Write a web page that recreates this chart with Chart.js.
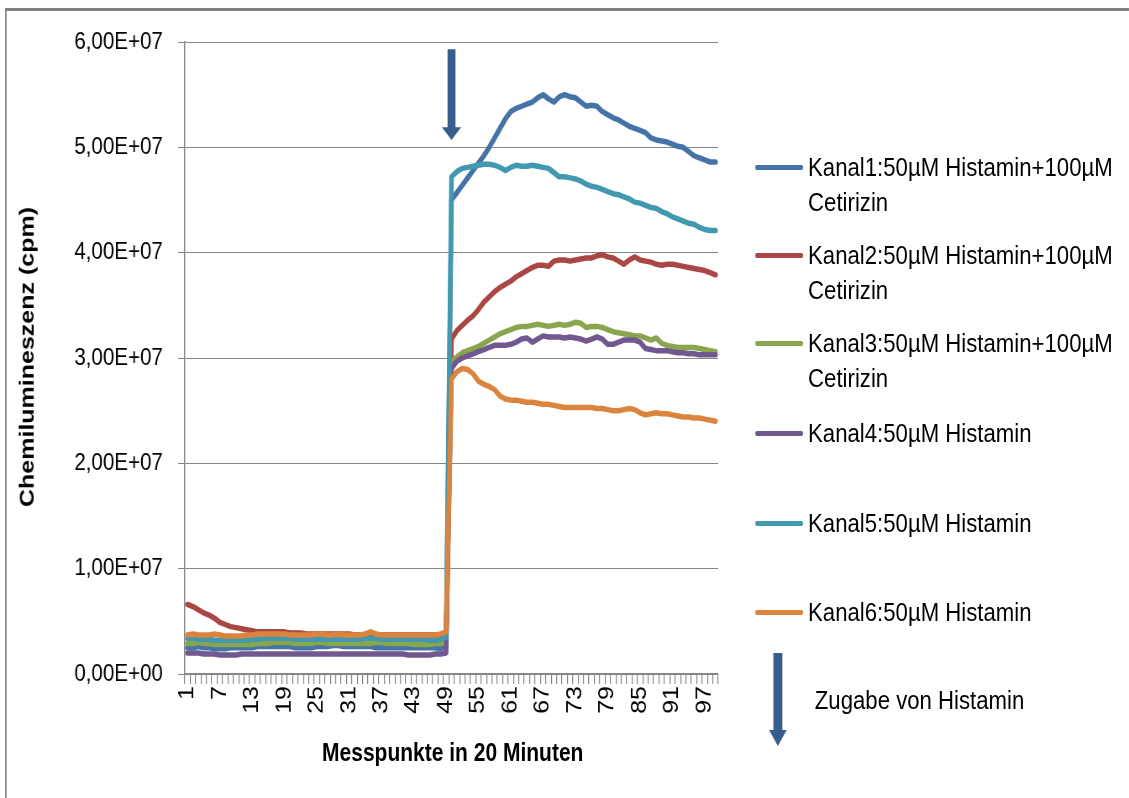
<!DOCTYPE html>
<html>
<head>
<meta charset="utf-8">
<script src="https://cdn.jsdelivr.net/npm/chart.js@4.4.1/dist/chart.umd.min.js"></script>
<style>
  html, body { margin: 0; padding: 0; background: #fff; overflow: hidden; }
  #wrap { position: relative; width: 1344px; height: 798px; transform: scaleX(0.84); transform-origin: 0 0; font-family: 'Liberation Sans', Arial, sans-serif; color: #000; }
  #c { position: absolute; left: 0; top: 0; }
  .frameTop { position: absolute; left: 6px; top: 8px; width: 1338px; height: 3px; background: #808080; }
  .frameLeft { position: absolute; left: 6px; top: 8px; width: 2.4px; height: 790px; background: #868686; }
  .ytitle { position: absolute; left: 32px; top: 357px; transform: translate(-50%, -50%) rotate(-90deg); font-weight: bold; font-size: 25px; white-space: nowrap; }
  .xtitle { position: absolute; left: 539px; top: 752px; transform: translate(-50%, -50%); font-weight: bold; font-size: 25px; white-space: nowrap; }
  .sw { position: absolute; left: 899px; width: 57px; height: 5px; border-radius: 2px; }
  .lt { position: absolute; left: 962px; width: 382px; font-size: 26.4px; line-height: 35px; }
</style>
</head>
<body>
<div id="wrap">
  <canvas id="c" width="1344" height="798"></canvas>
  <div class="frameTop"></div>
  <div class="frameLeft"></div>
  <div class="ytitle" id="ytitle"></div>
  <div class="xtitle" id="xtitle"></div>
  <div id="legend"></div>
</div>
<script>
const categories = ['1','2','3','4','5','6','7','8','9','10','11','12','13','14','15','16','17','18','19','20',
 '21','22','23','24','25','26','27','28','29','30','31','32','33','34','35','36','37','38','39','40',
 '41','42','43','44','45','46','47','48','49','50','51','52','53','54','55','56','57','58','59','60',
 '61','62','63','64','65','66','67','68','69','70','71','72','73','74','75','76','77','78','79','80',
 '81','82','83','84','85','86','87','88','89','90','91','92','93','94','95','96','97','98','99'];
const xTickLabels = ['1','7','13','19','25','31','37','43','49','55','61','67','73','79','85','91','97'];
const yTickLabels = ['0,00E+00','1,00E+07','2,00E+07','3,00E+07','4,00E+07','5,00E+07','6,00E+07'];
const seriesNames = ['Kanal1:50µM Histamin+100µM Cetirizin','Kanal2:50µM Histamin+100µM Cetirizin','Kanal3:50µM Histamin+100µM Cetirizin','Kanal4:50µM Histamin','Kanal5:50µM Histamin','Kanal6:50µM Histamin'];
const seriesColors = ['#4572A7','#AA4643','#89A54E','#71588F','#4198AF','#DB843D'];
const xTitle = 'Messpunkte in 20 Minuten';
const yTitle = 'Chemilumineszenz (cpm)';
const noteText = 'Zugabe von Histamin';

// values in units of 1E+07 cpm
const kanal1 = [
 0.25,0.25,0.26,0.25,0.25,0.24,0.24,0.24,0.25,0.25,
 0.25,0.25,0.25,0.26,0.26,0.26,0.26,0.26,0.26,0.26,
 0.25,0.25,0.25,0.25,0.26,0.26,0.26,0.27,0.27,0.26,
 0.26,0.26,0.26,0.26,0.26,0.25,0.25,0.25,0.25,0.25,
 0.25,0.25,0.25,0.25,0.25,0.25,0.25,0.24,0.26,
 4.50,4.57,4.64,4.71,4.78,4.85,4.92,5.00,5.09,5.18,
 5.27,5.34,5.37,5.39,5.41,5.43,5.47,5.50,5.46,5.43,
 5.48,5.50,5.48,5.47,5.43,5.39,5.40,5.39,5.34,5.31,
 5.28,5.26,5.23,5.20,5.18,5.16,5.14,5.09,5.07,5.06,
 5.05,5.03,5.01,5.00,4.96,4.92,4.90,4.88,4.86,4.86];
const kanal2 = [
 0.66,0.64,0.61,0.58,0.56,0.53,0.49,0.47,0.45,0.44,
 0.43,0.42,0.41,0.40,0.40,0.40,0.40,0.40,0.40,0.39,
 0.39,0.39,0.38,0.38,0.38,0.38,0.38,0.38,0.38,0.38,
 0.38,0.37,0.37,0.37,0.37,0.37,0.37,0.37,0.37,0.37,
 0.37,0.37,0.37,0.37,0.37,0.37,0.37,0.37,0.38,
 3.18,3.26,3.31,3.36,3.40,3.46,3.53,3.58,3.63,3.67,
 3.70,3.73,3.77,3.80,3.83,3.86,3.88,3.88,3.87,3.92,
 3.93,3.93,3.92,3.93,3.94,3.95,3.95,3.97,3.98,3.96,
 3.95,3.92,3.89,3.93,3.96,3.93,3.92,3.91,3.89,3.88,
 3.89,3.89,3.88,3.87,3.86,3.85,3.84,3.83,3.81,3.79];
const kanal3 = [
 0.29,0.29,0.30,0.29,0.29,0.28,0.28,0.28,0.28,0.28,
 0.28,0.28,0.28,0.29,0.29,0.29,0.30,0.30,0.30,0.30,
 0.29,0.29,0.29,0.29,0.30,0.30,0.29,0.29,0.29,0.29,
 0.29,0.29,0.29,0.29,0.29,0.30,0.30,0.29,0.29,0.29,
 0.29,0.29,0.28,0.28,0.28,0.28,0.29,0.29,0.30,
 2.96,3.01,3.05,3.07,3.09,3.11,3.14,3.17,3.20,3.23,
 3.25,3.27,3.29,3.30,3.30,3.31,3.32,3.31,3.30,3.31,
 3.32,3.31,3.32,3.34,3.33,3.29,3.30,3.30,3.29,3.27,
 3.25,3.24,3.23,3.22,3.21,3.21,3.19,3.17,3.19,3.14,
 3.12,3.11,3.10,3.10,3.10,3.10,3.09,3.08,3.07,3.06];
const kanal4 = [
 0.20,0.20,0.20,0.19,0.19,0.19,0.18,0.18,0.18,0.18,
 0.19,0.19,0.19,0.19,0.19,0.19,0.19,0.19,0.19,0.19,
 0.19,0.19,0.19,0.19,0.19,0.19,0.19,0.19,0.19,0.19,
 0.19,0.19,0.19,0.19,0.19,0.19,0.19,0.19,0.19,0.19,
 0.19,0.18,0.18,0.18,0.18,0.18,0.19,0.19,0.20,
 2.90,2.97,3.00,3.02,3.04,3.06,3.08,3.10,3.12,3.12,
 3.12,3.13,3.15,3.18,3.19,3.15,3.18,3.21,3.20,3.20,
 3.20,3.19,3.20,3.19,3.18,3.16,3.18,3.20,3.18,3.13,
 3.13,3.15,3.17,3.17,3.17,3.15,3.09,3.08,3.07,3.07,
 3.07,3.06,3.05,3.05,3.04,3.04,3.03,3.03,3.03,3.03];
const kanal5 = [
 0.34,0.34,0.33,0.33,0.33,0.32,0.32,0.32,0.32,0.32,
 0.32,0.32,0.33,0.33,0.34,0.34,0.34,0.34,0.34,0.34,
 0.33,0.33,0.33,0.33,0.33,0.33,0.33,0.33,0.33,0.33,
 0.33,0.33,0.33,0.34,0.34,0.34,0.33,0.33,0.33,0.33,
 0.33,0.33,0.33,0.33,0.33,0.32,0.32,0.33,0.35,
 4.72,4.77,4.80,4.81,4.82,4.83,4.84,4.84,4.83,4.81,
 4.78,4.81,4.83,4.82,4.82,4.83,4.82,4.81,4.80,4.76,
 4.72,4.72,4.71,4.70,4.68,4.65,4.63,4.62,4.60,4.58,
 4.56,4.55,4.53,4.51,4.48,4.47,4.45,4.43,4.42,4.39,
 4.37,4.34,4.32,4.30,4.28,4.27,4.24,4.22,4.21,4.21];
const kanal6 = [
 0.37,0.38,0.37,0.37,0.37,0.38,0.37,0.36,0.36,0.36,
 0.36,0.37,0.37,0.38,0.38,0.38,0.38,0.38,0.38,0.37,
 0.37,0.37,0.37,0.37,0.38,0.38,0.37,0.37,0.38,0.37,
 0.37,0.37,0.37,0.38,0.40,0.38,0.37,0.37,0.37,0.37,
 0.37,0.37,0.37,0.37,0.37,0.37,0.37,0.38,0.40,
 2.80,2.87,2.90,2.89,2.85,2.78,2.75,2.73,2.70,2.64,
 2.61,2.60,2.60,2.59,2.58,2.58,2.57,2.56,2.56,2.55,
 2.54,2.53,2.53,2.53,2.53,2.53,2.53,2.52,2.52,2.51,
 2.50,2.50,2.51,2.52,2.51,2.48,2.46,2.47,2.48,2.47,
 2.47,2.46,2.45,2.44,2.44,2.43,2.43,2.42,2.41,2.40];
const allSeries = [kanal1, kanal2, kanal3, kanal4, kanal5, kanal6];
const additionCategory = '50';

// Legend + titles (HTML text)
document.getElementById('ytitle').textContent = yTitle;
document.getElementById('xtitle').textContent = xTitle;
const legendTops = [167, 255, 343, 433, 523, 612];
const legend = document.getElementById('legend');
seriesNames.forEach((name, i) => {
  const sw = document.createElement('div');
  sw.className = 'sw';
  sw.style.top = (legendTops[i] - 2.5) + 'px';
  sw.style.background = seriesColors[i];
  legend.appendChild(sw);
  const t = document.createElement('div');
  t.className = 'lt';
  t.style.top = (legendTops[i] - 17.5) + 'px';
  t.textContent = name;
  legend.appendChild(t);
});
const note = document.createElement('div');
note.className = 'lt';
note.style.left = '970px';
note.style.top = (700 - 17.5) + 'px';
note.textContent = noteText;
legend.appendChild(note);

function drawArrow(ctx, cx, yTop, yHead, yTip, shaftW, headW, color) {
  ctx.save();
  ctx.fillStyle = color;
  ctx.beginPath();
  ctx.moveTo(cx - shaftW / 2, yTop);
  ctx.lineTo(cx + shaftW / 2, yTop);
  ctx.lineTo(cx + shaftW / 2, yHead);
  ctx.lineTo(cx + headW / 2, yHead);
  ctx.lineTo(cx, yTip);
  ctx.lineTo(cx - headW / 2, yHead);
  ctx.lineTo(cx - shaftW / 2, yHead);
  ctx.closePath();
  ctx.fill();
  ctx.restore();
}

const arrowPlugin = {
  id: 'arrows',
  afterDatasetsDraw(chart) {
    const { ctx, scales: { x, y } } = chart;
    const cx = x.getPixelForValue(categories.indexOf(additionCategory));
    drawArrow(ctx, cx, y.getPixelForValue(5.93e7), y.getPixelForValue(5.19e7), y.getPixelForValue(5.07e7), 9.5, 23, '#385D8A');
    drawArrow(ctx, 926, 653, 730, 746, 10.7, 21, '#385D8A');
  }
};

new Chart(document.getElementById('c'), {
  type: 'line',
  data: {
    labels: categories,
    datasets: allSeries.map((s, i) => ({
      label: seriesNames[i],
      data: s.map(v => v * 1e7),
      borderColor: seriesColors[i],
      backgroundColor: seriesColors[i],
      borderWidth: 5.5,
      pointRadius: 0,
      tension: 0,
      borderJoinStyle: 'round',
      borderCapStyle: 'round',
      order: allSeries.length - 1 - i
    }))
  },
  options: {
    responsive: false,
    animation: false,
    layout: { padding: { top: 42, right: 489, bottom: 0, left: 0 } },
    plugins: { legend: { display: false }, title: { display: false }, tooltip: { enabled: false } },
    scales: {
      x: {
        type: 'category',
        offset: true,
        afterFit(scale) { scale.height = 124; },
        grid: { offset: true, drawOnChartArea: false, drawTicks: true, tickLength: 10, color: '#868686', lineWidth: 1.2 },
        border: { display: true, color: '#868686', width: 1.5 },
        ticks: {
          autoSkip: false, maxRotation: 90, minRotation: 90, padding: 2,
          color: '#000', font: { family: 'Liberation Sans', size: 25 },
          callback(value, index) { const lab = categories[index]; return xTickLabels.includes(lab) ? lab : ''; }
        }
      },
      y: {
        min: 0, max: 6e7,
        afterFit(scale) { scale.width = 220; },
        grid: { color: '#868686', lineWidth: 1, tickLength: 8, drawTicks: true },
        border: { display: true, color: '#868686', width: 1.5 },
        ticks: {
          stepSize: 1e7, padding: 18, color: '#000', font: { family: 'Liberation Sans', size: 24.5 },
          callback(v) { return yTickLabels[Math.round(v / 1e7)]; }
        }
      }
    }
  },
  plugins: [arrowPlugin]
});
</script>
</body>
</html>
